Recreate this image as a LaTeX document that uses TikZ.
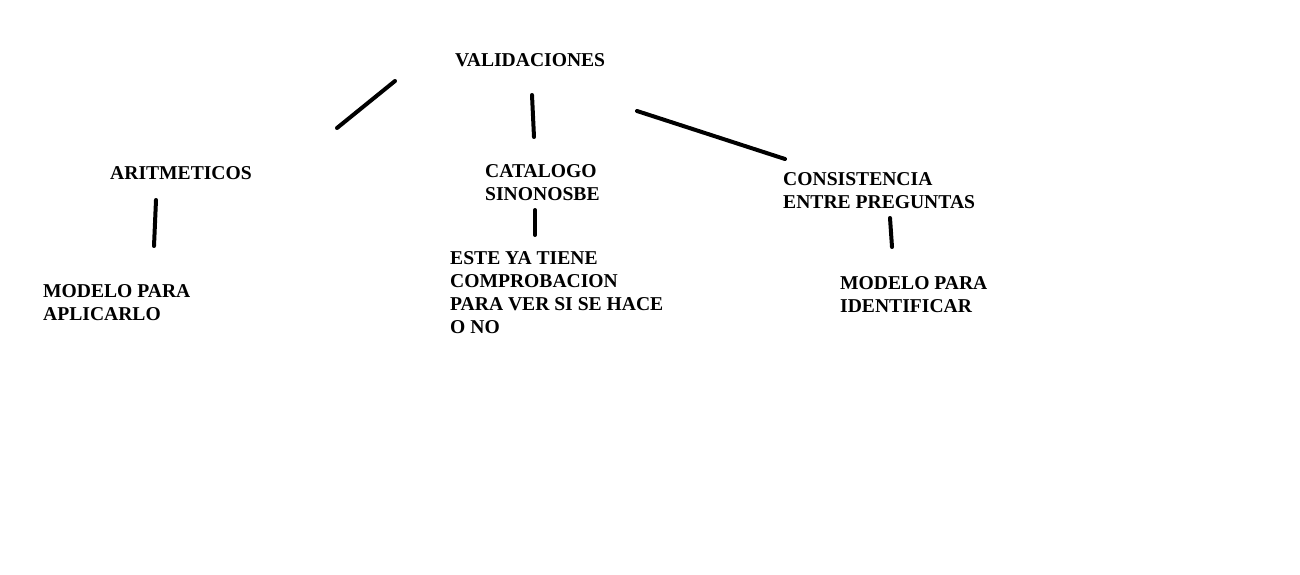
\documentclass[tikz,border=0pt]{standalone}
\usepackage{fontspec}
\setmainfont{Liberation Serif}
\begin{document}
\begin{tikzpicture}[x=1pt,y=-1pt,
  lbl/.style={anchor=north west,inner sep=0pt,align=left,font=\bfseries\fontsize{19.6}{23}\selectfont},
  link/.style={line width=4pt,line cap=round}]
\useasboundingbox[fill=white] (0,0) rectangle (1300,575);
\node[lbl] (val) at (455,53) {VALIDACIONES};
\node[lbl] (ari) at (110,166) {ARITMETICOS};
\node[lbl] (cat) at (485,164) {CATALOGO\\SINONOSBE};
\node[lbl] (con) at (783,172) {CONSISTENCIA\\ENTRE PREGUNTAS};
\node[lbl] (mod1) at (43,284) {MODELO PARA\\APLICARLO};
\node[lbl] (este) at (450,251) {ESTE YA TIENE\\COMPROBACION\\PARA VER SI SE HACE\\O NO};
\node[lbl] (mod2) at (840,276) {MODELO PARA\\IDENTIFICAR};
\coordinate (a1) at (395,81);  \coordinate (a2) at (337,128);
\coordinate (b1) at (532,95);  \coordinate (b2) at (534,137);
\coordinate (c1) at (637,111); \coordinate (c2) at (785,159);
\coordinate (d1) at (156,200); \coordinate (d2) at (154,246);
\coordinate (e1) at (535,210); \coordinate (e2) at (535,235);
\coordinate (f1) at (890,218); \coordinate (f2) at (892,247);
\draw[link] (a1) -- (a2);
\draw[link] (b1) -- (b2);
\draw[link] (c1) -- (c2);
\draw[link] (d1) -- (d2);
\draw[link] (e1) -- (e2);
\draw[link] (f1) -- (f2);
\end{tikzpicture}
\end{document}
